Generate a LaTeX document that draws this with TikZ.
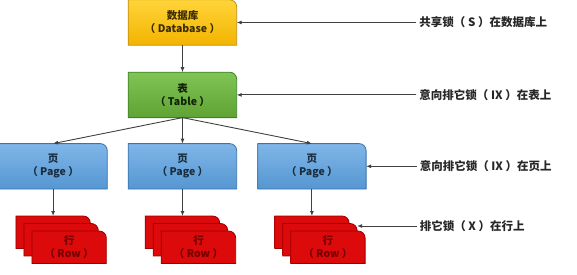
\documentclass[tikz,border=0pt]{standalone}
\usepackage{fontspec}
\newfontfamily\cjk{Noto Sans CJK SC}
\usetikzlibrary{positioning,arrows.meta,backgrounds}

\definecolor{dbtop}{HTML}{FFD43A}
\definecolor{dbbot}{HTML}{F2B400}
\definecolor{dbline}{HTML}{C08E10}
\definecolor{tbltop}{HTML}{80C455}
\definecolor{tblbot}{HTML}{5EA333}
\definecolor{tblline}{HTML}{42822A}
\definecolor{pagetop}{HTML}{80B6E8}
\definecolor{pagebot}{HTML}{5596D2}
\definecolor{pageline}{HTML}{3A74AE}
\definecolor{rowfill}{HTML}{DC0A0A}
\definecolor{rowline}{HTML}{9A0000}

% box with one big rounded corner (top right)
\newcommand{\tabshape}[4]{%
  \path[draw=#4, top color=#2, bottom color=#3, line width=0.8pt]
    (#1.south west) -- (#1.north west) -- ([xshift=-7pt]#1.north east)
    arc[start angle=90, end angle=0, radius=7pt] -- (#1.south east) -- cycle;}

\begin{document}
\begin{tikzpicture}[
  x=1pt, y=1pt,
  font=\cjk\fontsize{10.5}{13}\selectfont\bfseries,
  node distance=27pt,
  card/.style={minimum width=108pt, minimum height=45pt, inner sep=0pt, align=center},
  rowcard/.style={minimum width=74pt, minimum height=32pt, inner sep=0pt, align=center},
  note/.style={anchor=west, inner sep=3pt, text=black!85,
               font=\cjk\fontsize{11.5}{13}\selectfont\bfseries},
  arr/.style={-{Latex[length=5pt,width=4pt]}, line width=0.9pt, draw=black!75}
]
\useasboundingbox (0,0) rectangle (577,274);

\node[card, text=black!75!dbbot] (db) at (182.5,251.5) {数据库\\（ Database ）};
\node[card, text=black!80!tblbot, below=of db] (tbl) {表\\（ Table ）};
\node[card, text=black!70!pagebot, below=26pt of tbl] (page2) {页\\（ Page ）};
\node[card, text=black!70!pagebot, left=21pt of page2] (page1) {页\\（ Page ）};
\node[card, text=black!70!pagebot, right=21pt of page2] (page3) {页\\（ Page ）};

% stacked rows under each page
\node[rowcard, below=27pt of page1] (row1back) {};
\node[rowcard, xshift=8pt, yshift=-7.5pt] (row1mid) at (row1back) {};
\node[rowcard, xshift=16pt, yshift=-15pt, text=rowline!75!black] (row1) at (row1back) {行\\（ Row ）};
\node[rowcard, below=27pt of page2] (row2back) {};
\node[rowcard, xshift=8pt, yshift=-7.5pt] (row2mid) at (row2back) {};
\node[rowcard, xshift=16pt, yshift=-15pt, text=rowline!75!black] (row2) at (row2back) {行\\（ Row ）};
\node[rowcard, below=27pt of page3] (row3back) {};
\node[rowcard, xshift=8pt, yshift=-7.5pt] (row3mid) at (row3back) {};
\node[rowcard, xshift=16pt, yshift=-15pt, text=rowline!75!black] (row3) at (row3back) {行\\（ Row ）};

\begin{scope}[on background layer]
  \tabshape{db}{dbtop}{dbbot}{dbline}
  \tabshape{tbl}{tbltop}{tblbot}{tblline}
  \tabshape{page1}{pagetop}{pagebot}{pageline}
  \tabshape{page2}{pagetop}{pagebot}{pageline}
  \tabshape{page3}{pagetop}{pagebot}{pageline}
  \tabshape{row1back}{rowfill}{rowfill}{rowline}
  \tabshape{row1mid}{rowfill}{rowfill}{rowline}
  \tabshape{row1}{rowfill}{rowfill}{rowline}
  \tabshape{row2back}{rowfill}{rowfill}{rowline}
  \tabshape{row2mid}{rowfill}{rowfill}{rowline}
  \tabshape{row2}{rowfill}{rowfill}{rowline}
  \tabshape{row3back}{rowfill}{rowfill}{rowline}
  \tabshape{row3mid}{rowfill}{rowfill}{rowline}
  \tabshape{row3}{rowfill}{rowfill}{rowline}
\end{scope}

\draw[arr] (db) -- (tbl);
\draw[arr] (tbl.south) -- (page1.north);
\draw[arr] (tbl.south) -- (page2.north);
\draw[arr] (tbl.south) -- (page3.north);
\draw[arr] (page1) -- (row1back);
\draw[arr] (page2) -- (row2back);
\draw[arr] (page3) -- (row3back);

% lock notes on the right
\node[note, right=179.5pt of db] (dbnote) {共享锁（ S ）在数据库上};
\node[note, right=179.5pt of tbl] (tblnote) {意向排它锁（ IX ）在表上};
\node[note, right=50.5pt of page3] (pagenote) {意向排它锁（ IX ）在页上};
\node[note, yshift=-2.5pt] (rownote) at (pagenote.west |- row3mid.north) {排它锁（ X ）在行上};
\draw[arr] (dbnote) -- (db);
\draw[arr] (tblnote) -- (tbl);
\draw[arr] (pagenote) -- (page3);
\draw[arr] (rownote.west) -- (rownote.west -| row3mid.east);
\end{tikzpicture}
\end{document}
